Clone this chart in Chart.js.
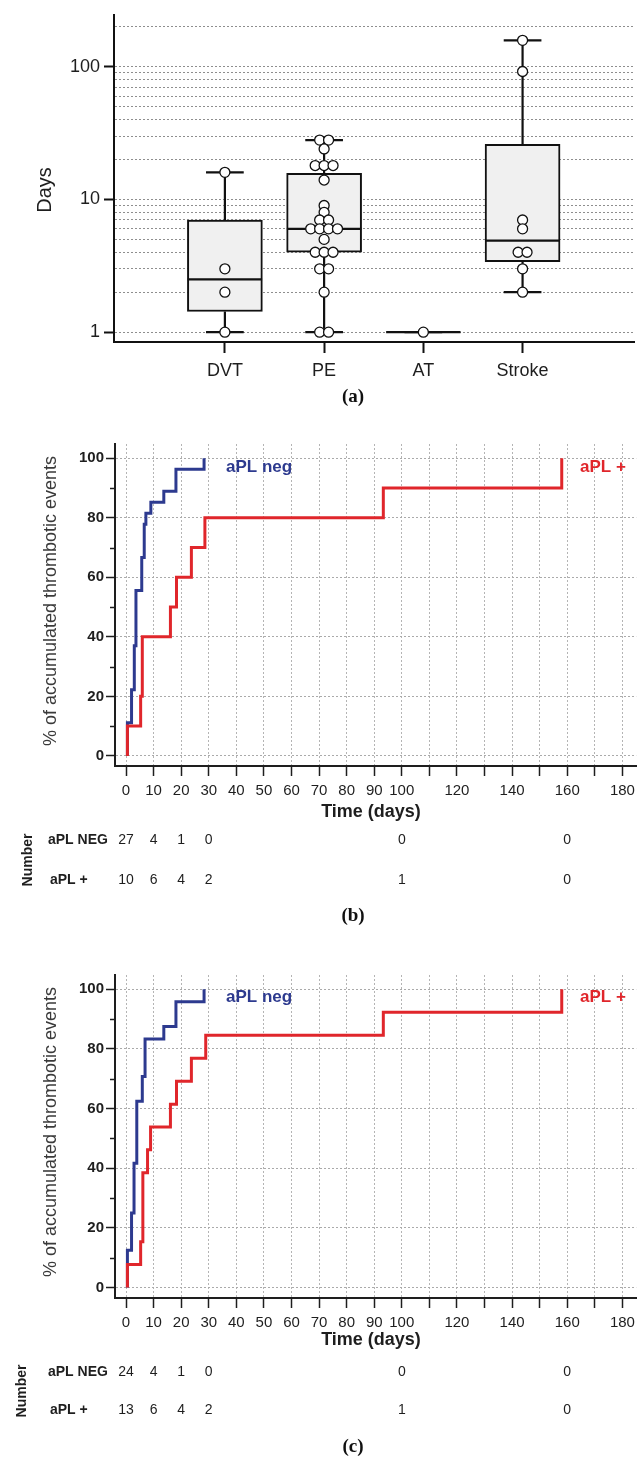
<!DOCTYPE html>
<html>
<head>
<meta charset="utf-8">
<script src="https://cdn.jsdelivr.net/npm/chart.js@4.4.1/dist/chart.umd.min.js"></script>
<style>
html,body{margin:0;padding:0;background:#fff;}
#wrap{position:relative;width:641px;height:1459px;overflow:hidden;background:#fff;}
canvas{position:absolute;left:0;}
</style>
</head>
<body>
<div id="wrap">
<canvas id="chartA" width="641" height="420" style="top:0px;width:641px;height:420px"></canvas>
<canvas id="chartB" width="641" height="500" style="top:430px;width:641px;height:500px"></canvas>
<canvas id="chartC" width="641" height="499" style="top:960px;width:641px;height:499px"></canvas>
</div>
<script>
// ---------------- DATA: panel (a) ----------------
const boxCategories = ['DVT', 'PE', 'AT', 'Stroke'];
const boxQ1 = [1.43, 4, 1, 3.4];
const boxMedian = [2.5, 6, 1, 4.9];
const boxQ3 = [7, 15.7, 1, 26];
const whiskerLow = [1, 1, 1, 2];
const whiskerHigh = [16, 28, 1, 158];
const dvtDays = [16, 3, 2, 1];
const peDays = [28, 28, 24, 18, 18, 18, 14, 9, 8, 7, 7, 6, 6, 6, 6, 5, 4, 4, 4, 3, 3, 2, 1, 1];
const atDays = [1];
const strokeDays = [158, 92, 7, 6, 4, 4, 3, 2];
const daysGridTicks = [1, 2, 3, 4, 5, 6, 7, 8, 9, 10, 20, 30, 40, 50, 60, 70, 80, 90, 100, 200];
const daysLabelTicks = [1, 10, 100];

// ---------------- DATA: panels (b) and (c) ----------------
const timeTicks = [0, 10, 20, 30, 40, 50, 60, 70, 80, 90, 100, 110, 120, 130, 140, 150, 160, 170, 180];
const timeTickLabels = ['0', '10', '20', '30', '40', '50', '60', '70', '80', '90', '100', '', '120', '', '140', '', '160', '', '180'];
const pctTicks = [0, 20, 40, 60, 80, 100];
const pctMinorTicks = [10, 30, 50, 70, 90];

const bNegDays = [0.5, 0.5, 2, 3, 3.6, 5.7, 6.6, 7.2, 9, 13.7, 18.1, 28.3];
const bNegPct  = [0, 11.1, 22.2, 37.0, 55.6, 66.7, 77.8, 81.5, 85.2, 88.9, 96.3, 100];
const bPosDays = [0.5, 0.5, 5.3, 5.9, 16.1, 18.3, 23.7, 28.6, 93.3, 158];
const bPosPct  = [0, 10, 20, 40, 50, 60, 70, 80, 90, 100];

const cNegDays = [0.5, 0.5, 2, 2.9, 3.9, 5.9, 6.9, 13.7, 18.1, 28.3];
const cNegPct  = [0, 12.5, 25, 41.7, 62.5, 70.8, 83.3, 87.5, 95.8, 100];
const cPosDays = [0.5, 0.5, 5.3, 6.1, 7.8, 8.9, 16.1, 18.3, 23.7, 28.9, 93.3, 158];
const cPosPct  = [0, 7.7, 15.4, 38.5, 46.2, 53.8, 61.5, 69.2, 76.9, 84.6, 92.3, 100];

const riskDays = [0, 10, 20, 30, 100, 160];
const bRiskNeg = [27, 4, 1, 0, 0, 0];
const bRiskPos = [10, 6, 4, 2, 1, 0];
const cRiskNeg = [24, 4, 1, 0, 0, 0];
const cRiskPos = [13, 6, 4, 2, 1, 0];

// ---------------- styling constants ----------------
const SANS = '"Liberation Sans", Arial, sans-serif';
const SERIF = '"Liberation Serif", "Times New Roman", serif';
const INK = '#1e1e1e';
const NAVY = '#2d3a8f';
const RED = '#e0262b';
const BOX_HALF = 0.375, CAP_HALF = 0.19, SWARM_STEP = 0.09;

Chart.defaults.font.family = SANS;
Chart.defaults.color = INK;

// ---------------- helpers ----------------
function swarm(values, xc) {
  const counts = {};
  values.forEach(v => { counts[v] = (counts[v] || 0) + 1; });
  const seen = {};
  return values.map(v => {
    seen[v] = (seen[v] === undefined) ? 0 : seen[v] + 1;
    return { x: xc + (seen[v] - (counts[v] - 1) / 2) * SWARM_STEP, y: v };
  });
}
function gap(x) { return { x: x, y: null }; }

// ---------------- panel (a) datasets ----------------
const boxData = boxCategories.map((c, i) => ({ x: i + 1, y: [boxQ1[i], boxQ3[i]] }));
const medianData = [];
const whiskerData = [];
boxCategories.forEach((c, i) => {
  const xc = i + 1;
  medianData.push({ x: xc - BOX_HALF, y: boxMedian[i] }, { x: xc + BOX_HALF, y: boxMedian[i] }, gap(xc));
  whiskerData.push({ x: xc, y: boxQ3[i] }, { x: xc, y: whiskerHigh[i] }, gap(xc));
  whiskerData.push({ x: xc, y: boxQ1[i] }, { x: xc, y: whiskerLow[i] }, gap(xc));
  whiskerData.push({ x: xc - CAP_HALF, y: whiskerHigh[i] }, { x: xc + CAP_HALF, y: whiskerHigh[i] }, gap(xc));
  whiskerData.push({ x: xc - CAP_HALF, y: whiskerLow[i] }, { x: xc + CAP_HALF, y: whiskerLow[i] }, gap(xc));
});
const pointData = [].concat(swarm(dvtDays, 1), swarm(peDays, 2), swarm(atDays, 3), swarm(strokeDays, 4));

const plugA = {
  id: 'textA',
  afterDraw(chart) {
    const ctx = chart.ctx;
    ctx.save();
    ctx.fillStyle = INK;
    ctx.font = '20px ' + SANS;
    ctx.textAlign = 'center';
    ctx.textBaseline = 'middle';
    ctx.translate(45, 190);
    ctx.rotate(-Math.PI / 2);
    ctx.fillText('Days', 0, 0);
    ctx.restore();
    ctx.save();
    ctx.fillStyle = '#111';
    ctx.font = 'bold 19px ' + SERIF;
    ctx.textAlign = 'center';
    ctx.textBaseline = 'middle';
    ctx.fillText('(a)', 353, 397);
    ctx.restore();
  }
};

new Chart(document.getElementById('chartA'), {
  type: 'bar',
  data: {
    datasets: [
      { type: 'scatter', data: pointData, pointRadius: 5, pointBackgroundColor: '#fff',
        pointBorderColor: '#111', pointBorderWidth: 1.3, order: 0 },
      { type: 'line', data: medianData, borderColor: '#111', borderWidth: 2.2, pointRadius: 0,
        spanGaps: false, fill: false, order: 1 },
      { type: 'bar', data: boxData, backgroundColor: '#f0f0f0', borderColor: '#111', borderWidth: 2,
        borderSkipped: false, barThickness: 75, grouped: false, order: 2 },
      { type: 'line', data: whiskerData, borderColor: '#111', borderWidth: 2.2, pointRadius: 0,
        spanGaps: false, fill: false, order: 3 }
    ]
  },
  options: {
    responsive: false, animation: false, events: [],
    layout: { padding: { top: 8, left: 0, right: 6, bottom: 38 } },
    plugins: { legend: { display: false }, tooltip: { enabled: false } },
    scales: {
      x: {
        type: 'linear', min: -0.1175, max: 5.13, offset: false, bounds: 'data',
        afterBuildTicks: (s) => { s.ticks = boxCategories.map((c, i) => ({ value: i + 1 })); },
        afterFit: (s) => { s.height = 40; },
        ticks: { callback: (v) => boxCategories[v - 1] || '', font: { size: 18 }, color: INK, padding: 7, autoSkip: false, maxRotation: 0 },
        grid: { drawOnChartArea: false, offset: false, tickLength: 11, tickColor: '#111', tickWidth: 2 },
        border: { display: true, color: '#111', width: 2 }
      },
      y: {
        type: 'logarithmic', min: 0.843, max: 246, bounds: 'data',
        afterBuildTicks: (s) => { s.ticks = daysGridTicks.map(v => ({ value: v })); },
        afterFit: (s) => { s.width = 114; },
        ticks: { callback: (v) => daysLabelTicks.includes(v) ? String(v) : '', font: { size: 18 }, color: INK, padding: 4, autoSkip: false },
        grid: {
          color: '#8e8e8e', lineWidth: 1, tickLength: 10, tickWidth: 2,
          tickColor: (c) => (c.tick && daysLabelTicks.includes(c.tick.value)) ? '#111' : 'rgba(0,0,0,0)'
        },
        border: { display: true, color: '#111', width: 2, dash: [2, 2] }
      }
    }
  },
  plugins: [plugA]
});

// ---------------- panels (b) and (c) ----------------
function kmChart(canvasId, neg, pos, riskNeg, riskPos, letter, layout) {
  const plug = {
    id: 'kmText' + letter,
    afterDraw(chart) {
      const ctx = chart.ctx;
      const xs = chart.scales.x, ys = chart.scales.y;
      ctx.save();
      // minor ticks on the y axis
      ctx.strokeStyle = INK; ctx.lineWidth = 1.5;
      pctMinorTicks.forEach(v => {
        const y = Math.round(ys.getPixelForValue(v)) + 0.5;
        ctx.beginPath(); ctx.moveTo(xs.left - 5, y); ctx.lineTo(xs.left, y); ctx.stroke();
      });
      // y axis title
      ctx.save();
      ctx.fillStyle = '#3a3a3a';
      ctx.font = '18px ' + SANS;
      ctx.textAlign = 'center'; ctx.textBaseline = 'middle';
      ctx.translate(51, layout.yTitle);
      ctx.rotate(-Math.PI / 2);
      ctx.fillText('% of accumulated thrombotic events', 0, 0);
      ctx.restore();
      // x axis title
      ctx.fillStyle = INK;
      ctx.font = 'bold 18px ' + SANS;
      ctx.textAlign = 'center'; ctx.textBaseline = 'middle';
      ctx.fillText('Time (days)', 371, layout.xTitle);
      // curve labels
      ctx.textAlign = 'left';
      ctx.font = 'bold 17px ' + SANS;
      ctx.fillStyle = NAVY;
      ctx.fillText('aPL neg', 226, layout.curveLabel);
      ctx.fillStyle = RED;
      ctx.fillText('aPL +', 580, layout.curveLabel);
      // number at risk table
      ctx.fillStyle = INK;
      ctx.save();
      ctx.font = 'bold 14px ' + SANS;
      ctx.translate(layout.numberX, (layout.rowNeg + layout.rowPos) / 2);
      ctx.rotate(-Math.PI / 2);
      ctx.textAlign = 'center';
      ctx.fillText('Number', 0, 0);
      ctx.restore();
      ctx.font = 'bold 14px ' + SANS;
      ctx.textAlign = 'left';
      ctx.fillText('aPL NEG', 48, layout.rowNeg);
      ctx.fillText('aPL +', 50, layout.rowPos);
      ctx.font = '14px ' + SANS;
      ctx.textAlign = 'center';
      riskDays.forEach((d, i) => {
        const x = xs.getPixelForValue(d);
        ctx.fillText(String(riskNeg[i]), x, layout.rowNeg);
        ctx.fillText(String(riskPos[i]), x, layout.rowPos);
      });
      // panel letter
      ctx.fillStyle = '#111';
      ctx.font = 'bold 19px ' + SERIF;
      ctx.fillText('(' + letter + ')', 353, layout.letter);
      ctx.restore();
    }
  };
  return new Chart(document.getElementById(canvasId), {
    type: 'line',
    data: {
      datasets: [
        { label: 'aPL +', data: pos.days.map((d, i) => ({ x: d, y: pos.pct[i] })), stepped: 'before',
          borderColor: RED, borderWidth: 3, pointRadius: 0, fill: false, tension: 0 },
        { label: 'aPL neg', data: neg.days.map((d, i) => ({ x: d, y: neg.pct[i] })), stepped: 'before',
          borderColor: NAVY, borderWidth: 3, pointRadius: 0, fill: false, tension: 0 }
      ]
    },
    options: {
      responsive: false, animation: false, events: [],
      layout: { padding: { top: layout.top, left: 0, right: 3, bottom: layout.bottom } },
      plugins: { legend: { display: false }, tooltip: { enabled: false } },
      scales: {
        x: {
          type: 'linear', min: -4, max: 185, bounds: 'data',
          afterBuildTicks: (s) => { s.ticks = timeTicks.map(v => ({ value: v })); },
          afterFit: (s) => { s.height = 40; },
          ticks: { callback: (v, i) => timeTickLabels[timeTicks.indexOf(v)] || '', font: { size: 15 }, color: INK,
                   padding: 6, autoSkip: false, maxRotation: 0 },
          grid: { color: '#b4b4b4', lineWidth: 1, tickLength: 10, tickColor: INK, tickWidth: 1.5 },
          border: { display: true, color: INK, width: 2, dash: [2, 2] }
        },
        y: {
          type: 'linear', min: layout.yMin, max: 104.8, bounds: 'data',
          afterBuildTicks: (s) => { s.ticks = pctTicks.map(v => ({ value: v })); },
          afterFit: (s) => { s.width = 115; },
          ticks: { callback: (v) => String(v), font: { size: 15, weight: 'bold' }, color: INK, padding: 2, autoSkip: false },
          grid: { color: '#aaaaaa', lineWidth: 1, tickLength: 9, tickColor: INK, tickWidth: 1.5 },
          border: { display: true, color: INK, width: 2, dash: [2, 2] }
        }
      }
    },
    plugins: [plug]
  });
}

kmChart('chartB', { days: bNegDays, pct: bNegPct }, { days: bPosDays, pct: bPosPct }, bRiskNeg, bRiskPos, 'b',
  { top: 14, bottom: 124, yMin: -3.4, yTitle: 171, xTitle: 382, curveLabel: 37, rowNeg: 410, rowPos: 450, numberX: 28, letter: 486 });
kmChart('chartC', { days: cNegDays, pct: cNegPct }, { days: cPosDays, pct: cPosPct }, cRiskNeg, cRiskPos, 'c',
  { top: 15, bottom: 121, yMin: -3.5, yTitle: 172, xTitle: 380, curveLabel: 37, rowNeg: 412, rowPos: 450, numberX: 22, letter: 487 });
</script>
</body>
</html>
